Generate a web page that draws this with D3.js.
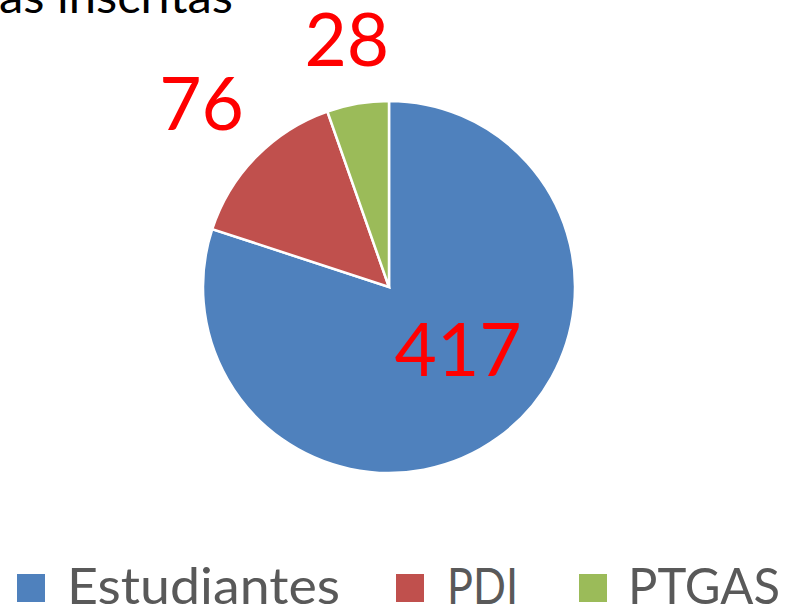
<!DOCTYPE html>
<html>
<head>
<meta charset="utf-8">
<script src="https://cdn.jsdelivr.net/npm/d3@7"></script>
<style>
  html, body { margin: 0; padding: 0; background: #fff; }
  svg { display: block; }
  text { font-family: Lato, "Open Sans", sans-serif; }
</style>
</head>
<body>
<svg id="chart" width="789" height="609"></svg>
<script>
// ---- data ----
const categories = ["Estudiantes", "PDI", "PTGAS"];
const values = [417, 76, 28];
const colors = ["#4F81BD", "#C0504D", "#9BBB59"];
const titleText = "as inscritas";

// ---- layout ----
const W = 789, H = 609;
const cx = 389, cy = 287, R = 186;
// label placement: radius factor relative to R, plus angular nudge (rad)
const labelRadius = [0.50, 1.41, 1.35];
const labelAngleNudge = [-0.21, 0, 0];

const svg = d3.select("#chart");

// title (cut off at top, as in reference)
svg.append("text")
  .attr("x", -1).attr("y", 13)
  .attr("fill", "#000")
  .style("font-size", "46px")
  .attr("textLength", 234)
  .attr("lengthAdjust", "spacingAndGlyphs")
  .text(titleText);

const pie = d3.pie().sort(null).value(d => d)(values);
const arc = d3.arc().innerRadius(0).outerRadius(R);

const g = svg.append("g").attr("transform", `translate(${cx},${cy})`);
g.selectAll("path").data(pie).join("path")
  .attr("d", arc)
  .attr("fill", (d, i) => colors[i])
  .attr("stroke", "#fff")
  .attr("stroke-width", 2.5)
  .attr("stroke-linejoin", "miter");

// data labels
g.selectAll("text.lbl").data(pie).join("text")
  .attr("class", "lbl")
  .each(function(d, i) {
    const a = (d.startAngle + d.endAngle) / 2 + labelAngleNudge[i];
    const r = R * labelRadius[i];
    d3.select(this)
      .attr("x", Math.sin(a) * r)
      .attr("y", -Math.cos(a) * r)
      .attr("dy", "0.36em");
  })
  .attr("text-anchor", "middle")
  .attr("fill", "#FF0000")
  .style("font-size", "73px")
  .text(d => d.data);

// legend
const legendSquareX = [17, 396, 579];
const legendTextX = [67, 447, 628];
const legendTextW = [273, 71, 152];
const legend = svg.append("g");
categories.forEach((c, i) => {
  legend.append("rect")
    .attr("x", legendSquareX[i]).attr("y", 574)
    .attr("width", 28).attr("height", 28)
    .attr("fill", colors[i]);
  legend.append("text")
    .attr("x", legendTextX[i]).attr("y", 604)
    .attr("fill", "#595959")
    .style("font-size", "51px")
    .attr("textLength", legendTextW[i])
    .attr("lengthAdjust", "spacingAndGlyphs")
    .text(c);
});
</script>
</body>
</html>
